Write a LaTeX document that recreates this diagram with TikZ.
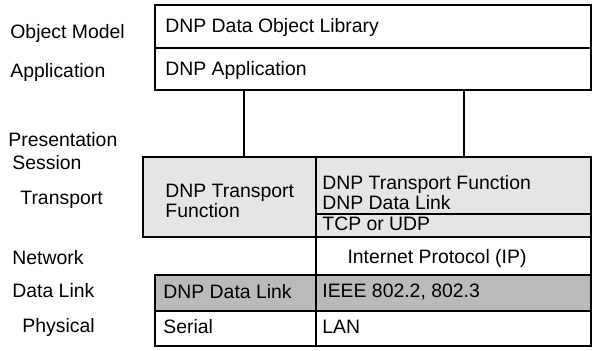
\documentclass[tikz,border=0pt]{standalone}
\usepackage{fontspec}
\setmainfont{Liberation Sans}
\begin{document}
\begin{tikzpicture}[x=0.5pt,y=-0.5pt,
  box/.style={draw=black,line width=0.7pt,inner sep=0pt,anchor=center},
  lbl/.style={font=\fontsize{9.7}{10}\selectfont,inner sep=0pt,anchor=west},
  txt/.style={font=\fontsize{9.7}{10}\selectfont,inner sep=0pt,anchor=west,align=left},
  lightfill/.style={fill=black!10},
  darkfill/.style={fill=black!27},
  conn/.style={line width=0.7pt}]
\useasboundingbox (0,0) rectangle (593,351);
% left layer labels
\node[lbl] (lobj) at (10,33) {Object Model};
\node[lbl] (lapp) at (10,72) {Application};
\node[lbl] (lpres) at (8,140) {Presentation};
\node[lbl] (lses) at (12,163) {Session};
\node[lbl] (ltra) at (20,200) {Transport};
\node[lbl] (lnet) at (12,258) {Network};
\node[lbl] (ldl) at (12,291) {Data Link};
\node[lbl] (lphy) at (22,327) {Physical};
% top boxes
\node[box,minimum width=218pt,minimum height=21.5pt] (obj) at (373,26.5) {};
\node[box,minimum width=218pt,minimum height=21pt] (app) at (373,69) {};
% transport
\node[box,lightfill,minimum width=86.5pt,minimum height=40pt] (tl) at (229.5,197) {};
\node[box,lightfill,minimum width=137.5pt,minimum height=28.5pt] (tr1) at (453.5,185.5) {};
\node[box,lightfill,minimum width=137.5pt,minimum height=11.5pt] (tr2) at (453.5,225.5) {};
% network
\node[box,minimum width=137.5pt,minimum height=19pt] (ip) at (453.5,256) {};
% data link
\node[box,darkfill,minimum width=80.5pt,minimum height=18pt] (dl) at (235.5,293) {};
\node[box,darkfill,minimum width=137.5pt,minimum height=18pt] (ieee) at (453.5,293) {};
% physical
\node[box,minimum width=80.5pt,minimum height=17.5pt] (ser) at (235.5,328.5) {};
\node[box,minimum width=137.5pt,minimum height=17.5pt] (lan) at (453.5,328.5) {};
% connectors
\coordinate (ca) at (244,90);
\coordinate (cb) at (464,90);
\draw[conn] (ca) -- (ca |- tl.north);
\draw[conn] (cb) -- (cb |- tr1.north);
% texts
\node[txt] (tobj) at (165,27) {DNP Data Object Library};
\node[txt] (tapp) at (165,70) {DNP Application};
\node[txt,font=\fontsize{9.7}{10}\selectfont] (ttl) at (165,201) {DNP Transport\\Function};
\node[txt,font=\fontsize{9.7}{9}\selectfont] (ttr1) at (322,193) {DNP Transport Function\\DNP Data Link};
\node[txt] (ttr2) at (322,224) {TCP or UDP};
\node[txt,anchor=center] (tip) at (437,258) {Internet Protocol (IP)};
\node[txt] (tdl) at (163,292) {DNP Data Link};
\node[txt] (tieee) at (322,292) {IEEE 802.2, 802.3};
\node[txt] (tser) at (163,327) {Serial};
\node[txt] (tlan) at (322,327) {LAN};
\end{tikzpicture}
\end{document}
